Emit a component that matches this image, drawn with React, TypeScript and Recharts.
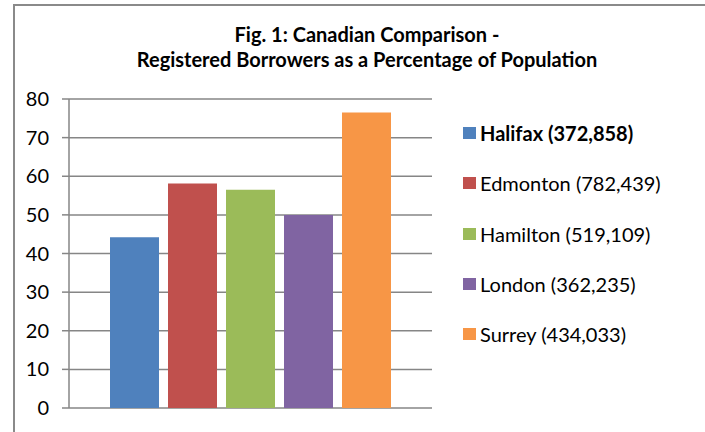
import React from 'react';
import { BarChart, Bar, XAxis, YAxis, CartesianGrid, Legend } from 'recharts';

// one bar per city, single category
const cityKeys = ['halifax', 'edmonton', 'hamilton', 'london', 'surrey'];
const cityLabels = [
  'Halifax (372,858)',
  'Edmonton (782,439)',
  'Hamilton (519,109)',
  'London (362,235)',
  'Surrey (434,033)',
];
const borrowerPct = [44.2, 58.1, 56.5, 50.0, 76.5];
const barColors = ['#4F81BD', '#C0504D', '#9BBB59', '#8064A2', '#F79646'];
const yTicks = [0, 10, 20, 30, 40, 50, 60, 70, 80];

const FONT = 'Lato, "Open Sans", sans-serif';
const GRID = '#868686';

const chartData = [
  cityKeys.reduce(
    (row, key, i) => ({ ...row, [key]: borrowerPct[i] }),
    { name: 'Canada' } as Record<string, string | number>
  ),
];

const renderLegend = (props: any) => {
  // keep series order, not alphabetical
  const payload = [...(props.payload || [])].sort(
    (a: any, b: any) => cityLabels.indexOf(a.value) - cityLabels.indexOf(b.value)
  );
  return (
    <div style={{ fontFamily: FONT, fontSize: 20, color: '#000' }}>
      {payload.map((entry: any, i: number) => (
        <div
          key={entry.value}
          style={{ height: 50.25, display: 'flex', alignItems: 'center' }}
        >
          <span
            style={{
              display: 'inline-block',
              width: 13,
              height: 12,
              background: entry.color,
              marginRight: 4,
            }}
          />
          <span style={{ fontWeight: i === 0 ? 700 : 400 }}>{entry.value}</span>
        </div>
      ))}
    </div>
  );
};

const App = () => {
  return (
    <div
      style={{
        position: 'absolute',
        left: 0,
        top: 0,
        width: 705,
        height: 432,
        overflow: 'hidden',
        background: '#fff',
      }}
    >
      <div
        style={{
          position: 'absolute',
          left: 13,
          top: 4,
          width: 800,
          height: 600,
          border: '2px solid #8a8a8a',
        }}
      />
      <div
        style={{
          position: 'absolute',
          left: 67,
          top: 22,
          width: 600,
          textAlign: 'center',
          fontFamily: FONT,
          fontWeight: 700,
          fontSize: 20,
          lineHeight: '25px',
          color: '#000',
        }}
      >
        Fig. 1: Canadian Comparison -<br />
        Registered Borrowers as a Percentage of Population
      </div>
      <BarChart
        width={705}
        height={432}
        data={chartData}
        margin={{ top: 99, right: 273, bottom: 24, left: 0 }}
        barGap={9}
        style={{ position: 'absolute', left: 0, top: 0 }}
      >
        <CartesianGrid vertical={false} stroke={GRID} strokeWidth={1.5} />
        <XAxis
          dataKey="name"
          height={0}
          tick={false}
          tickLine={false}
          axisLine={{ stroke: GRID, strokeWidth: 1.5 }}
        />
        <YAxis
          width={69}
          domain={[0, 80]}
          ticks={yTicks}
          interval={0}
          tickSize={7}
          tickMargin={13}
          axisLine={{ stroke: GRID, strokeWidth: 1.5 }}
          tickLine={{ stroke: GRID, strokeWidth: 1.5 }}
          tick={{ fill: '#000', fontSize: 20, fontFamily: FONT }}
        />
        <Legend
          layout="vertical"
          align="center"
          verticalAlign="middle"
          content={renderLegend}
          wrapperStyle={{ left: 463, top: 108, width: 240 }}
        />
        {cityKeys.map((key, i) => (
          <Bar
            key={key}
            dataKey={key}
            name={cityLabels[i]}
            fill={barColors[i]}
            barSize={49}
            isAnimationActive={false}
          />
        ))}
      </BarChart>
    </div>
  );
};

export default App;
